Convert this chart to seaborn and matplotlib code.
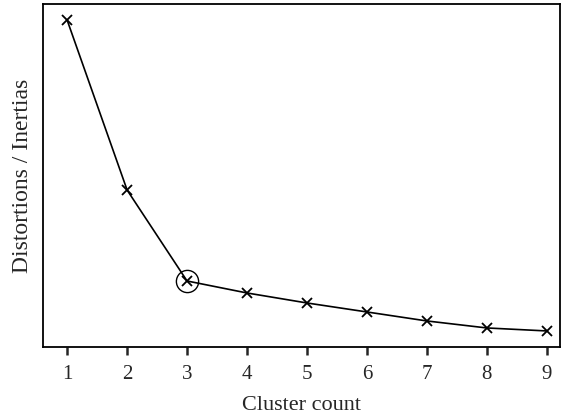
import pandas as pd
import seaborn as sns
import matplotlib.pyplot as plt

# Elbow curve values (arbitrary units)
clusters = [1, 2, 3, 4, 5, 6, 7, 8, 9]
inertias = [327, 157, 66, 54, 44, 35, 26, 19, 16]
elbow_k = 3

df = pd.DataFrame({"k": clusters, "inertia": inertias})

sns.set_theme(style="ticks")
plt.rcParams['font.family'] = ['Liberation Serif', 'DejaVu Serif']

fig, ax = plt.subplots(figsize=(5.61, 4.19), dpi=100)

sns.lineplot(data=df, x="k", y="inertia", ax=ax, color="black",
             linewidth=1.2, marker="x", markersize=6.5, markeredgewidth=1.3,
             markeredgecolor="black")

# Circle the elbow
elbow = df[df["k"] == elbow_k]
ax.plot(elbow["k"], elbow["inertia"], marker="o", markersize=16,
        markerfacecolor="none", markeredgecolor="black", markeredgewidth=1.0,
        linestyle="none")

ax.set_xlim(0.6, 9.22)
ax.set_ylim(0, 343)
ax.set_xticks(clusters)
ax.set_yticks([])
ax.tick_params(axis="x", labelsize=15, length=6, width=1.8, direction="out", pad=7)
ax.set_xlabel("Cluster count", fontsize=16, labelpad=9)
ax.set_ylabel("Distortions / Inertias", fontsize=17, labelpad=7)
for s in ax.spines.values():
    s.set_linewidth(1.3)
    s.set_color("black")

fig.subplots_adjust(left=0.077, right=0.998, top=0.99, bottom=0.172)
fig.savefig("out.png", dpi=100)
